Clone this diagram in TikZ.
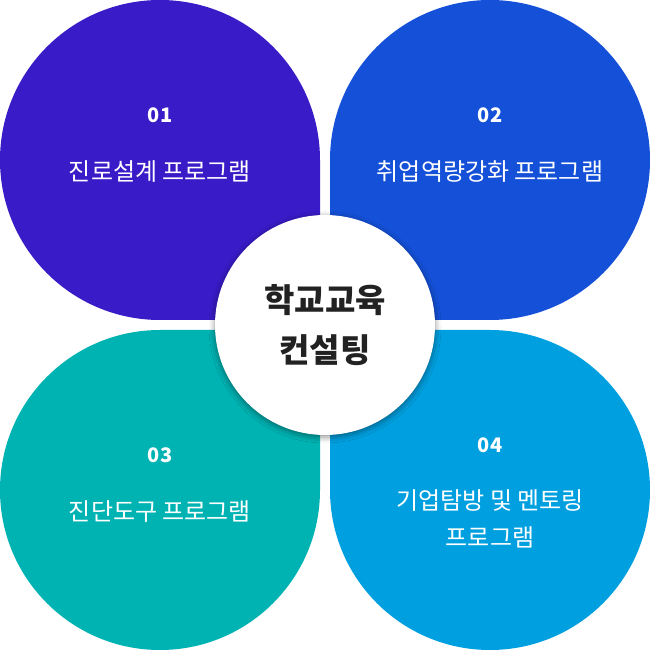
\documentclass[tikz,border=0pt]{standalone}
\usepackage{fontspec}
\setmainfont{Noto Sans CJK KR}
\usetikzlibrary{shadows.blur}
\definecolor{cA}{HTML}{3A1BC8}
\definecolor{cB}{HTML}{1450D8}
\definecolor{cC}{HTML}{00B3B3}
\definecolor{cD}{HTML}{00A0E0}
\definecolor{txt}{HTML}{222222}
\tikzset{
  num/.style={text=white,font=\fontsize{20}{24}\selectfont\bfseries,anchor=center},
  lbl/.style={text=white,font=\fontsize{24}{37}\selectfont,anchor=center,align=center},
  ctr/.style={text=txt,font=\fontsize{33}{50}\selectfont\bfseries,anchor=center,align=center},
}
\begin{document}
\begin{tikzpicture}[x=1pt,y=1pt]
\useasboundingbox (0,0) rectangle (650,650);
\fill[white] (0,0) rectangle (650,650);
\fill[cA] (320,330) -- (160,330) arc[start angle=270, end angle=0, radius=160] -- cycle;
\fill[cB] (330,330) -- (330,490) arc[start angle=180, end angle=-90, radius=160] -- cycle;
\fill[cC] (320,320) -- (320,160) arc[start angle=0, end angle=-270, radius=160] -- cycle;
\fill[cD] (330,320) -- (490,320) arc[start angle=90, end angle=-180, radius=160] -- cycle;
\node[circle,fill=white,minimum size=220pt,inner sep=0pt,
  blur shadow={shadow xshift=0pt,shadow yshift=-2pt,shadow blur radius=6pt,shadow opacity=45}] (c) at (325,325) {};
\node[ctr] (ct) at (325,325) {학교교육\\컨설팅};
\node[num] (n1) at (160,535) {01};
\node[lbl] (l1) at (160,478) {진로설계 프로그램};
\node[num] (n2) at (490,535) {02};
\node[lbl] (l2) at (490,478) {취업역량강화 프로그램};
\node[num] (n3) at (160,195) {03};
\node[lbl] (l3) at (160,138) {진단도구 프로그램};
\node[num] (n4) at (490,205) {04};
\node[lbl] (l4) at (490,131.5) {기업탐방 및 멘토링\\프로그램};
\end{tikzpicture}
\end{document}
